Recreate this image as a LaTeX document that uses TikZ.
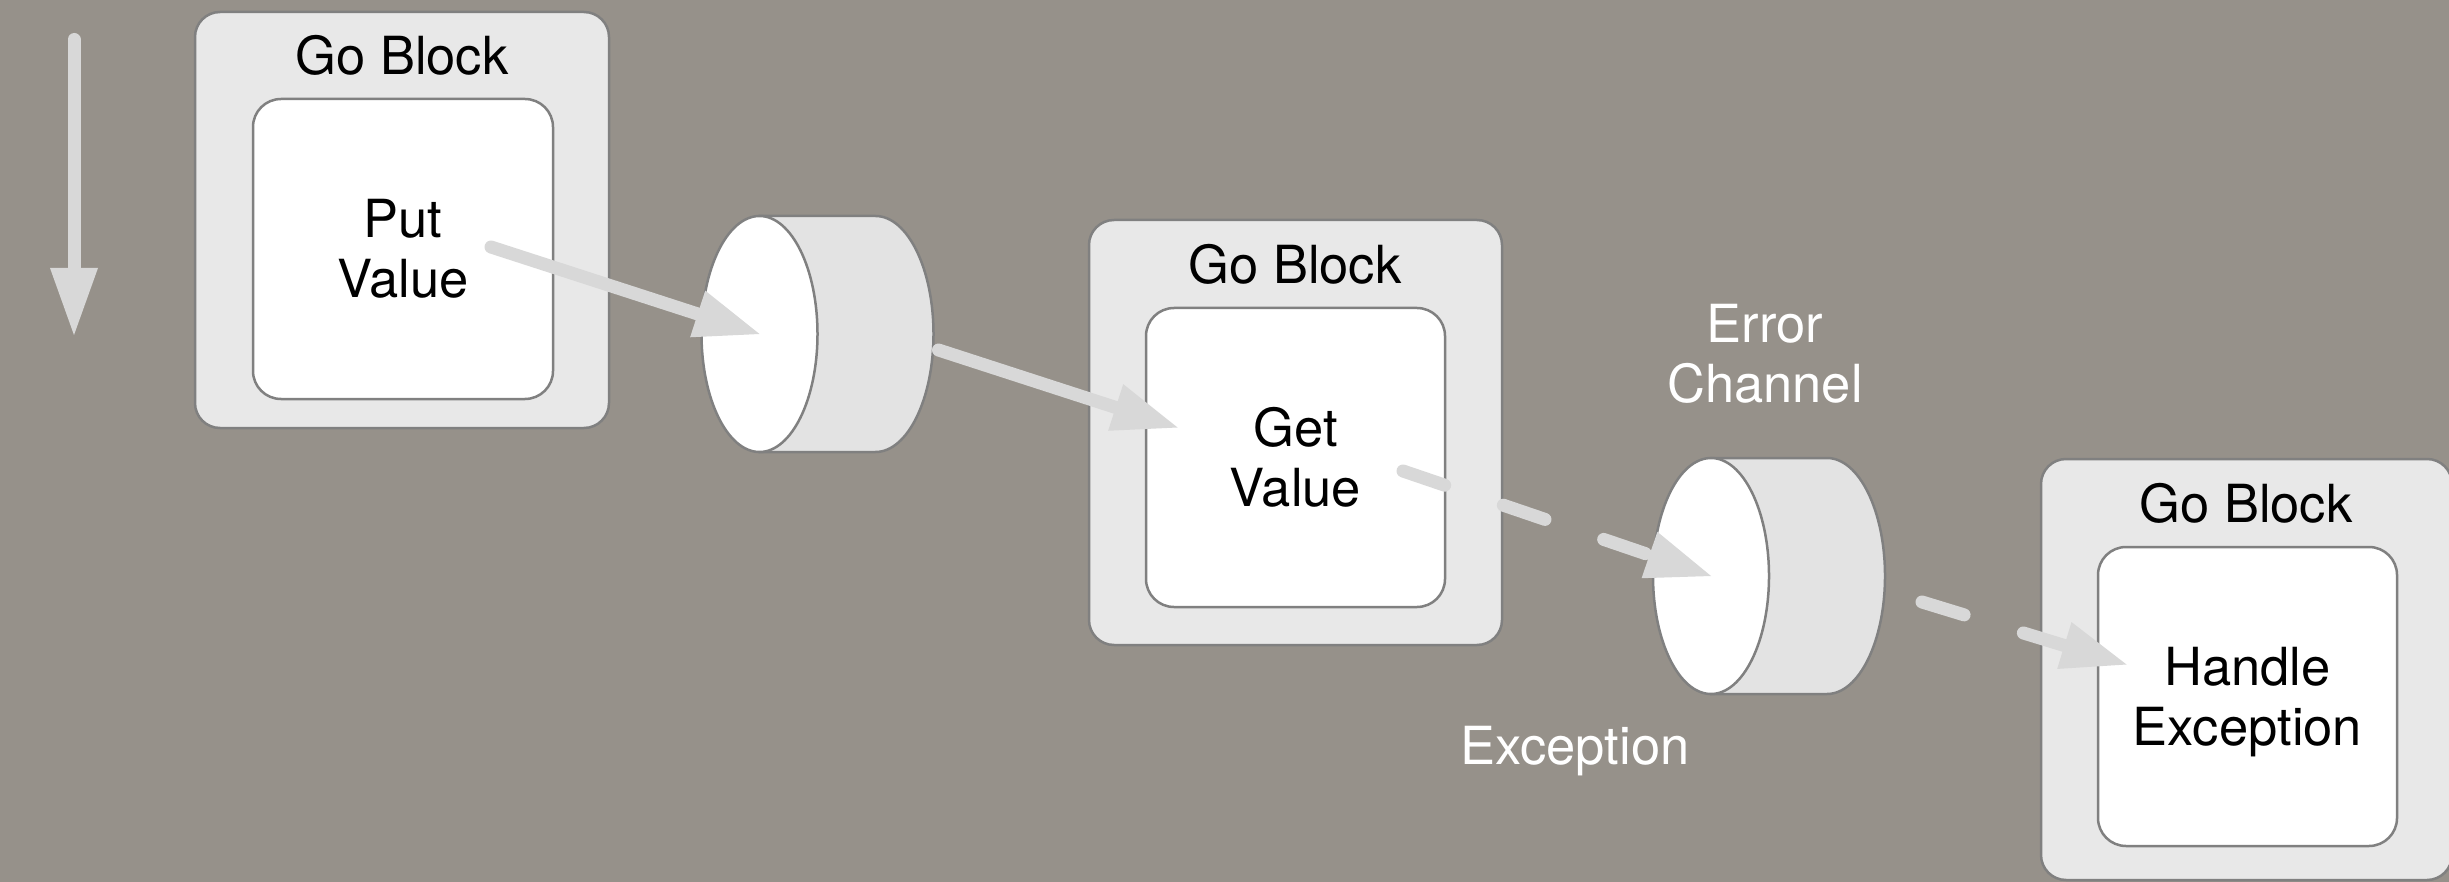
\documentclass[tikz,border=0pt]{standalone}
\usepackage{fontspec}
\setmainfont{TeX Gyre Heros}
\usetikzlibrary{arrows.meta,calc}
\definecolor{bg}{RGB}{150,145,138}
\definecolor{boxfill}{RGB}{232,232,232}
\definecolor{border}{RGB}{128,128,128}
\definecolor{arrowgray}{RGB}{216,216,216}
\definecolor{chbody}{RGB}{227,227,227}
\tikzset{
  outerbox/.style={draw=border, line width=2.5pt, fill=boxfill, rounded corners=25pt, inner sep=0pt},
  innerbox/.style={draw=border, line width=2.5pt, fill=white, rounded corners=28pt, inner sep=0pt,
    minimum width=299pt, minimum height=299pt, align=center},
  title/.style={anchor=base, inner sep=0pt},
  wlabel/.style={text=white, align=center, inner sep=0pt},
  chline/.style={draw=border, line width=2.5pt},
  flow/.style={draw=arrowgray, line width=13pt, line cap=round,
    -{Triangle[length=65pt,width=49pt,line width=0pt]}},
  dflow/.style={flow, dash pattern=on 44pt off 62pt},
}
\newcommand\drawchannel[1]{%
  \filldraw[chline, fill=chbody] ($(#1)+(0,-118)$) -- ($(#1)+(116,-118)$)
    arc[start angle=90, end angle=-90, x radius=58pt, y radius=118pt]
    -- ($(#1)+(0,118)$) -- cycle;
  \filldraw[chline, fill=white] (#1) ellipse [x radius=58pt, y radius=118pt];
}
\begin{document}
\begin{tikzpicture}[x=1pt, y=-1pt, font=\fontsize{52.5}{60}\selectfont]
\useasboundingbox (0,0) rectangle (2449,882);
\fill[bg] (0,0) rectangle (2449,882);

% Go blocks
\node[outerbox, minimum width=414pt, minimum height=416pt] (gb1) at (402,220) {};
\node[title] (gb1t) at (402,75) {Go Block};
\node[innerbox, minimum width=300pt, minimum height=300pt] (put) at (403,249) {Put\\Value};

\node[outerbox, minimum width=413pt, minimum height=425pt] (gb2) at (1295.5,432.5) {};
\node[title] (gb2t) at (1295,284) {Go Block};
\node[innerbox] (get) at (1295.5,457.5) {Get\\Value};

\node[outerbox, minimum width=411pt, minimum height=421pt] (gb3) at (2246.5,669.5) {};
\node[title] (gb3t) at (2246,522) {Go Block};
\node[innerbox] (handle) at (2247.5,696.5) {Handle\\Exce\smash{p}tion};

% channels
\coordinate (ch1) at (759.5,334);
\coordinate (ch2) at (1711,576);
\drawchannel{ch1}
\drawchannel{ch2}

% labels
\node[wlabel] (errlab) at (1765,354) {Error\\Channel};
\node[wlabel, anchor=base] (exclab) at (1575,764) {Exception};

% time arrow
\coordinate (t0) at (74,39.5);
\coordinate (t1) at (74,335);
\draw[flow, -{Triangle[length=67pt,width=48pt,line width=0pt]}] (t0) -- (t1);

% connectors
\coordinate (a1s) at ($(put.center)+(88,-2)$);
\draw[flow] (a1s) -- (ch1);
\coordinate (a2s) at ($(ch1)+(179,16)$);
\coordinate (a2e) at ($(get.center)+(-118,-30)$);
\draw[flow] (a2s) -- (a2e);
\coordinate (a3s) at ($(get.center)+(107.5,13.5)$);
\draw[dflow] (a3s) -- (ch2);
\coordinate (a4s) at ($(ch2)+(211,26)$);
\coordinate (a4e) at ($(handle.center)+(-121,-32)$);
\draw[dflow] (a4s) -- (a4e);
\end{tikzpicture}
\end{document}
